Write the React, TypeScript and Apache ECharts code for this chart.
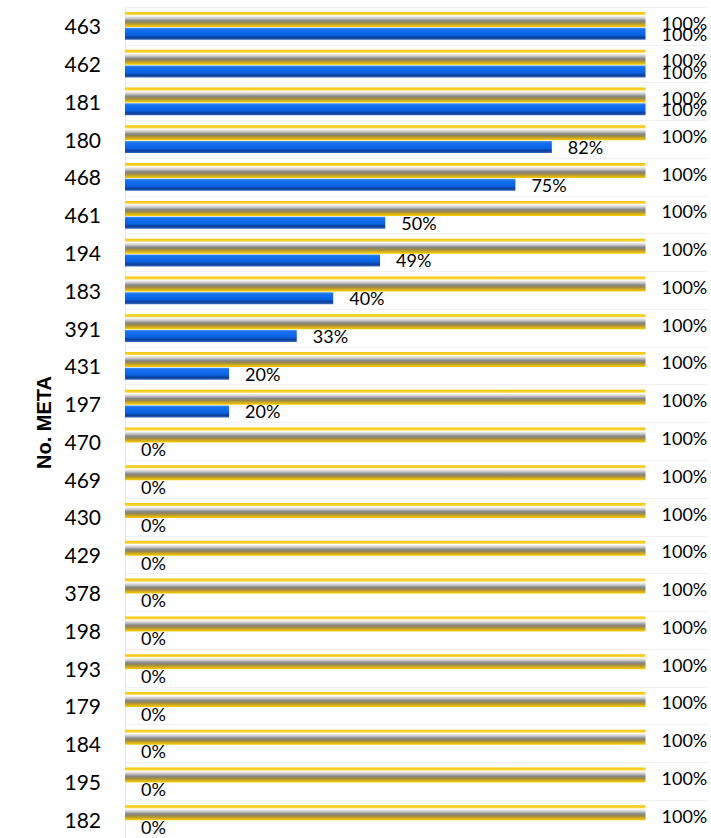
import React, { useEffect, useRef } from "react";
import * as echarts from "echarts";

const categories = ["463", "462", "181", "180", "468", "461", "194", "183", "391", "431", "197", "470", "469", "430", "429", "378", "198", "193", "179", "184", "195", "182"];
const targetValues = [1, 1, 1, 1, 1, 1, 1, 1, 1, 1, 1, 1, 1, 1, 1, 1, 1, 1, 1, 1, 1, 1];
const progressValues = [1, 1, 1, 0.82, 0.75, 0.5, 0.49, 0.4, 0.33, 0.2, 0.2, 0, 0, 0, 0, 0, 0, 0, 0, 0, 0, 0];
const axisTitle = "No. META";

const pct = (p: any) => Math.round(p.value * 100) + "%";

export default function App() {
  const ref = useRef<HTMLDivElement>(null);
  useEffect(() => {
    document.body.style.margin = "0";
    const chart = echarts.init(ref.current!, null, { renderer: "svg" });
    const goldGrad = new echarts.graphic.LinearGradient(0, 0, 0, 1, [
      { offset: 0, color: "#f4c400" },
      { offset: 0.16, color: "#f7d440" },
      { offset: 0.24, color: "#ffffff" },
      { offset: 0.42, color: "#c8c8c8" },
      { offset: 0.58, color: "#858585" },
      { offset: 0.72, color: "#9c8a48" },
      { offset: 0.86, color: "#d4ac1c" },
      { offset: 1, color: "#f6d000" },
    ]);
    const blueGrad = new echarts.graphic.LinearGradient(0, 0, 0, 1, [
      { offset: 0, color: "#4f93ee" },
      { offset: 0.15, color: "#1572f0" },
      { offset: 0.6, color: "#0b62e2" },
      { offset: 0.82, color: "#0b3d98" },
      { offset: 1, color: "#3b6cc0" },
    ]);
    const labelFont = {
      fontFamily: "Lato, 'Open Sans', sans-serif",
      fontSize: 18,
      color: "#000",
    };
    chart.setOption({
      animation: false,
      grid: { left: 125, top: 7, width: 583, height: 831.6, containLabel: false },
      xAxis: {
        type: "value",
        min: 0,
        max: 1.12,
        show: false,
      },
      yAxis: {
        type: "category",
        data: categories,
        inverse: true,
        offset: 6,
        axisLine: { show: true, lineStyle: { color: "#e6e6e6", width: 1 } },
        axisTick: { show: false },
        splitLine: { show: true, lineStyle: { color: "#f0f0f0", width: 1 } },
        axisLabel: {
          margin: 18,
          fontFamily: "Lato, 'Open Sans', sans-serif",
          fontSize: 21,
          color: "#000",
        },
        name: axisTitle,
        nameLocation: "middle",
        nameRotate: 90,
        nameGap: 63,
        nameTextStyle: {
          fontFamily: "'Liberation Sans', Arial, sans-serif",
          fontWeight: "bold",
          fontSize: 20,
          color: "#000",
        },
      },
      series: [
        {
          name: "Meta",
          type: "bar",
          data: targetValues,
          barWidth: 15,
          barGap: "5%",
          itemStyle: { color: goldGrad },
          label: {
            show: true,
            position: "right",
            distance: 16,
            offset: [0, 3],
            formatter: pct,
            ...labelFont,
          },
        },
        {
          name: "Avance",
          type: "bar",
          data: progressValues,
          barWidth: 12,
          barGap: "5%",
          itemStyle: { color: blueGrad },
          label: {
            show: true,
            position: "right",
            distance: 16,
            offset: [0, 0],
            formatter: pct,
            ...labelFont,
          },
        },
      ],
    });
    return () => chart.dispose();
  }, []);
  return <div ref={ref} style={{ width: 711, height: 838 }} />;
}
